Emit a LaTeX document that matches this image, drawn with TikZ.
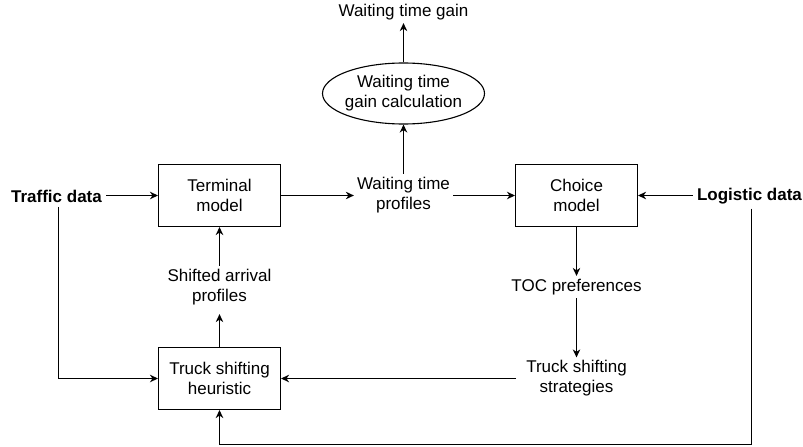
\documentclass[tikz,border=0pt]{standalone}
\usepackage{fontspec}
\setmainfont{Liberation Sans}
\usetikzlibrary{arrows.meta,shapes.geometric}
\begin{document}
\begin{tikzpicture}[x=1pt,y=-1pt,
  every node/.style={font=\fontsize{17}{20}\selectfont, align=center},
  boxnode/.style={draw, line width=1.1pt, minimum width=122pt, minimum height=62pt, inner sep=0pt},
  txt/.style={inner sep=3pt},
  boldtxt/.style={inner sep=4pt, font=\fontsize{17}{20}\selectfont\bfseries},
  conn/.style={line width=1.1pt, -{Stealth[length=8pt,width=7.5pt,inset=2.5pt]}},
  ]
\useasboundingbox (0,0) rectangle (803,447);
\node[txt] (gain) at (403.5,12) {Waiting time gain};
\node[draw, ellipse, line width=1.1pt, minimum width=162pt, minimum height=61pt, inner xsep=-3pt, inner ysep=0pt] (calc) at (403.5,93.5) {Waiting time\\gain calculation};
\node[txt] (prof) at (403.5,195) {Waiting time\\profiles};
\node[boxnode] (term) at (219.5,195.5) {Terminal\\model};
\node[boxnode] (choice) at (576.5,195.5) {Choice\\model};
\node[boldtxt] (traffic) at (56.5,196.5) {Traffic data};
\node[boldtxt] (logistic) at (749.5,196.5) {Logistic data};
\node[txt] (toc) at (576.5,287) {TOC preferences};
\node[txt, inner xsep=10pt] (strat) at (576.5,378.5) {Truck shifting\\strategies};
\node[boxnode] (heur) at (219.5,378.5) {Truck shifting\\heuristic};
\node[txt] (shift) at (219.5,287) {Shifted arrival\\profiles};
\coordinate (lb) at (751.5,444.5);

\draw[conn] (calc.north) -- (gain.south);
\draw[conn] (prof.north) -- (calc.south);
\draw[conn] (traffic.east |- term.west) -- (term.west);
\draw[conn] (term.east) -- (prof.west |- term.east);
\draw[conn] (prof.east |- choice.west) -- (choice.west);
\draw[conn] (logistic.west |- choice.east) -- (choice.east);
\draw[conn] (choice.south) -- (toc.north);
\draw[conn] (toc.south) -- (strat.north);
\draw[conn] (strat.west |- heur.east) -- (heur.east);
\draw[conn, shorten >=6pt] (heur.north) -- (shift.south);
\draw[conn] (shift.north) -- (term.south);
\draw[conn] ([xshift=2pt]traffic.south) |- (heur.west);
\draw[conn] ([xshift=2pt]logistic.south) -- (lb) -| (heur.south);
\end{tikzpicture}
\end{document}
